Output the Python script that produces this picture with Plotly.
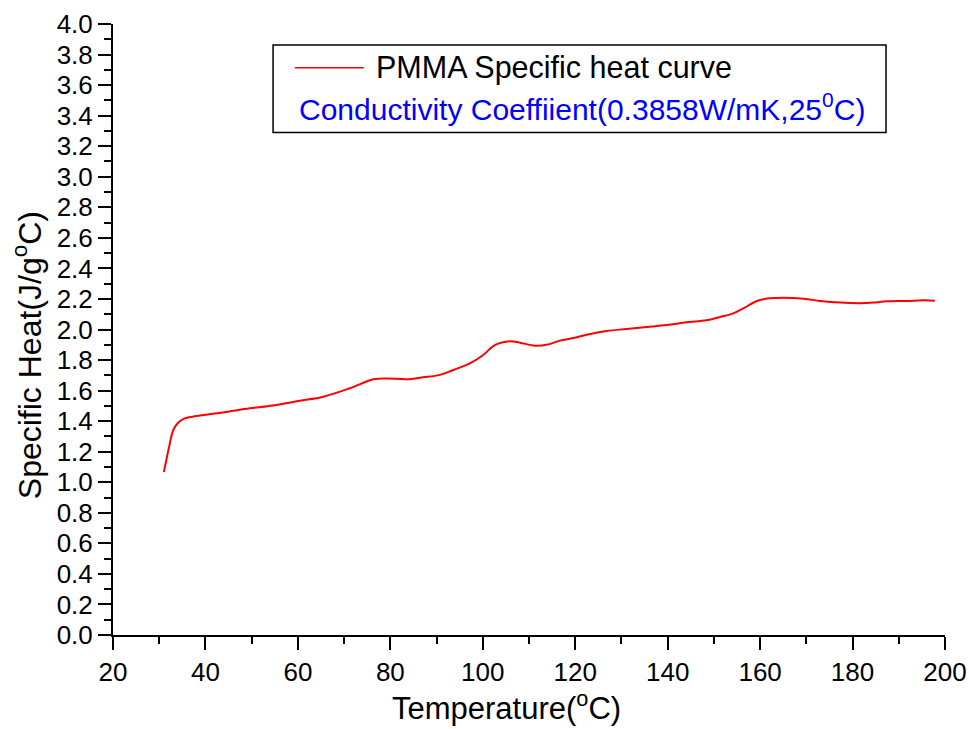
import plotly.graph_objects as go

temperature = [31.0, 32.3, 33.0, 34.1, 35.5, 38.0, 43.8, 49.6, 54.6, 60.4, 65.5, 71.2, 76.3, 79.2,
               83.5, 87.1, 90.7, 93.6, 97.2, 100.1, 102.6, 105.9, 108.0, 111.3, 113.8, 116.7,
               119.6, 122.5, 126.8, 131.1, 135.5, 139.8, 144.1, 148.4, 151.3, 154.2, 156.4,
               159.3, 162.1, 165.0, 169.4, 173.0, 177.3, 181.6, 184.5, 187.4, 191.7, 195.3, 197.8]
specific_heat = [1.066, 1.254, 1.34, 1.39, 1.418, 1.433, 1.457, 1.484, 1.503, 1.533, 1.56, 1.615,
                 1.674, 1.68, 1.674, 1.687, 1.703, 1.735, 1.778, 1.833, 1.898, 1.923, 1.914, 1.894,
                 1.9, 1.927, 1.944, 1.966, 1.99, 2.003, 2.016, 2.029, 2.047, 2.06, 2.082, 2.106,
                 2.139, 2.187, 2.204, 2.208, 2.202, 2.187, 2.176, 2.172, 2.176, 2.185, 2.187,
                 2.191, 2.189]

series_name = "PMMA Specific heat curve"
note_text = "Conductivity Coeffiient(0.3858W/mK,25<sup>0</sup>C)"
x_title = "Temperature(<sup>o</sup>C)"
y_title = "Specific Heat(J/g<sup>o</sup>C)"

FONT = "Liberation Sans"

fig = go.Figure()
fig.add_trace(go.Scatter(x=temperature, y=specific_heat, mode="lines",
                         line=dict(color="#ff0000", width=2), name=series_name,
                         line_shape="spline", showlegend=False))

axis_common = dict(showgrid=False, zeroline=False, showline=True, linecolor="black",
                   linewidth=2, ticks="outside", ticklen=13, tickwidth=2, tickcolor="black",
                   tickfont=dict(family=FONT, size=26, color="black"), mirror=False,
                   automargin=False)

fig.update_xaxes(range=[20, 200], dtick=20, tick0=0,
                 minor=dict(ticks="outside", ticklen=7, tickwidth=2, tickcolor="black", dtick=10),
                 **axis_common)
fig.update_yaxes(range=[0, 4], dtick=0.2, tick0=0, tickformat=".1f",
                 minor=dict(ticks="outside", ticklen=7, tickwidth=2, tickcolor="black", dtick=0.1),
                 **axis_common)

# axis titles
fig.add_annotation(xref="paper", yref="paper", x=0.4728, y=-0.1168, xanchor="center", yanchor="middle",
                   text=x_title, showarrow=False, font=dict(family=FONT, size=31, color="black"))
fig.add_annotation(xref="paper", yref="paper", x=-0.1032, y=0.4582, xanchor="center", yanchor="middle",
                   text=y_title, showarrow=False, textangle=-90,
                   font=dict(family=FONT, size=32, color="black"))

# legend box drawn manually
fig.add_shape(type="rect", xref="paper", yref="paper", x0=0.1924, x1=0.9291, y0=0.8224, y1=0.9656,
              line=dict(color="black", width=1.5), fillcolor="white")
fig.add_shape(type="line", xref="paper", yref="paper", x0=0.2185, x1=0.3014, y0=0.9284, y1=0.9284,
              line=dict(color="#ff0000", width=1.5))
fig.add_annotation(xref="paper", yref="paper", x=0.3135, y=0.9284, xanchor="left", yanchor="middle",
                   text=series_name, showarrow=False,
                   font=dict(family=FONT, size=30.5, color="black"))
fig.add_annotation(xref="paper", yref="paper", x=0.2208, y=0.8643, xanchor="left", yanchor="middle",
                   text=note_text, showarrow=False,
                   font=dict(family=FONT, size=30, color="#0000ff"))

fig.update_layout(width=969, height=729, margin=dict(l=113, r=24, t=24, b=94),
                  plot_bgcolor="white", paper_bgcolor="white",
                  font=dict(family=FONT, color="black"))

fig.write_html("out.html")
